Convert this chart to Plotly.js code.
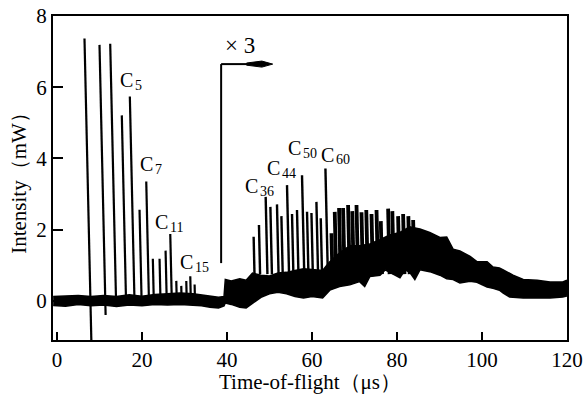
<!DOCTYPE html>
<html>
<head>
<meta charset="utf-8">
<script src="https://cdn.plot.ly/plotly-3.0.1.min.js"></script>
<style>html,body{margin:0;padding:0;background:#fff;}#chart{width:583px;height:394px;}</style>
</head>
<body>
<div id="chart"></div>
<script>
// ---- data ----
// left group of cluster peaks (x at peak top, µs; intensity, mW; foot of the line)
const leftPeakX    = [6.47, 10.0, 12.52, 15.25, 17.14, 19.42, 21.0, 22.55, 24.13, 25.55, 26.65, 28.07, 29.24, 30.42, 31.36, 32.38];
const leftPeakTop  = [7.37, 7.19, 7.22, 5.21, 5.74, 2.56, 3.35, 1.18, 1.18, 1.41, 1.88, 0.56, 0.42, 0.56, 0.69, 0.46];
const leftPeakFoot = [-1.1, -0.4, 0, 0, 0, 0, 0, 0, 0, 0, 0, 0, 0, 0, 0, 0];

// right group (after the x3 change of scale)
const rightPeakX   = [46.27, 47.52, 49.10, 50.21, 51.76, 52.80, 54.12, 55.30, 56.47, 57.65, 58.83, 59.87, 61.04, 62.06, 63.16, 64.58, 65.35, 66.37, 67.31, 68.49, 69.48, 70.47, 71.64, 72.77, 74.00, 75.18, 76.19, 77.91, 78.90, 80.26, 81.44, 82.67, 83.80];
const rightPeakTop = [1.80, 2.13, 2.92, 2.64, 2.71, 2.38, 3.25, 2.44, 2.55, 3.53, 2.50, 2.47, 2.78, 2.32, 3.72, 1.90, 2.50, 2.61, 2.61, 2.69, 2.52, 2.69, 2.49, 2.55, 2.44, 2.55, 2.24, 2.59, 2.52, 2.38, 2.44, 2.38, 2.27];
const rightPeakFoot = 0.75;

// noisy baseline band: lower and upper envelope
const bandX    = [-0.9, 2, 5, 8, 11, 14, 17, 20, 23, 26, 29, 32, 34, 36, 38, 39.3, 39.6, 41, 43, 44.5, 46, 48, 50, 52, 54, 56, 58, 60, 62.5, 63.5, 64.2, 66.5, 68.9, 71.2, 72.4, 73.6, 76, 77.2, 78.3, 80.7, 81.9, 83, 84.2, 85.4, 87.7, 90.1, 91.7, 93.2, 94.8, 97.2, 98.8, 101.2, 102.6, 104.1, 105, 106.5, 107.3, 109.7, 113, 116, 119, 120];
const bandLow  = [-0.13, -0.15, -0.10, -0.14, -0.12, -0.16, -0.12, -0.14, -0.10, -0.12, -0.10, -0.12, -0.14, -0.18, -0.20, -0.14, -0.06, -0.10, -0.18, -0.20, -0.08, 0.10, 0.20, 0.24, 0.20, 0.12, 0.08, 0.12, 0.08, 0.22, 0.30, 0.40, 0.45, 0.54, 0.40, 0.68, 0.72, 0.87, 0.80, 0.65, 0.87, 0.80, 0.60, 0.87, 0.82, 0.72, 0.62, 0.60, 0.50, 0.55, 0.52, 0.39, 0.35, 0.30, 0.22, 0.11, 0.10, 0.08, 0.08, 0.08, 0.11, 0.14];
const bandHigh = [0.12, 0.13, 0.15, 0.12, 0.15, 0.12, 0.17, 0.13, 0.18, 0.20, 0.22, 0.20, 0.16, 0.12, 0.10, 0.12, 0.60, 0.56, 0.62, 0.58, 0.78, 0.72, 0.70, 0.78, 0.80, 0.85, 0.90, 0.88, 0.85, 1.00, 1.10, 1.35, 1.55, 1.55, 1.58, 1.60, 1.72, 1.80, 1.85, 1.92, 2.00, 2.08, 2.05, 2.02, 1.92, 1.78, 1.79, 1.45, 1.40, 1.25, 1.10, 1.10, 0.95, 0.92, 0.87, 0.78, 0.72, 0.60, 0.58, 0.53, 0.53, 0.58];

// cluster labels (anchor = junction of "C" and its subscript)
const labelSub = ['5', '7', '11', '15', '36', '44', '50', '60'];
const labelX   = [18.0, 22.72, 26.25, 32.14, 47.45, 52.63, 57.7, 65.35];
const labelY   = [6.20, 3.84, 2.21, 1.09, 3.22, 3.73, 4.29, 4.10];

// x3 gain change marker
const gainX = 38.62, gainYLow = 1.06, gainYHigh = 6.65, gainArrowEnd = 50.75;

const xTicks = [0, 20, 40, 60, 80, 100, 120];
const yTicks = [0, 2, 4, 6, 8];

// ---- build traces ----
const LEAN = 0.19;        // slant of the recorded lines (µs per mW)
const DENSE_FROM = 64.3;  // beyond this the recorded lines merge into a dark mass
function spikeLines(xs, tops, feet, keep) {
  const X = [], Y = [];
  xs.forEach((x, i) => {
    if (!keep(x)) return;
    const f = Array.isArray(feet) ? feet[i] : feet;
    X.push(x, x + LEAN * (tops[i] - f), null);
    Y.push(tops[i], f, null);
  });
  return {X, Y};
}
const L  = spikeLines(leftPeakX, leftPeakTop, leftPeakFoot, () => true);
const R1 = spikeLines(rightPeakX, rightPeakTop, rightPeakFoot, x => x < DENSE_FROM);
const R2 = spikeLines(rightPeakX, rightPeakTop, rightPeakFoot, x => x >= DENSE_FROM);

const serif = 'Liberation Serif, Times New Roman, serif';
const traces = [
  {x: bandX, y: bandLow, mode: 'lines', line: {color: '#000', width: 1.5}, hoverinfo: 'skip'},
  {x: bandX, y: bandHigh, mode: 'lines', fill: 'tonexty', fillcolor: '#000', line: {color: '#000', width: 1.5}, hoverinfo: 'skip'},
  {x: L.X, y: L.Y, mode: 'lines', line: {color: '#000', width: 2.2}, connectgaps: false},
  {x: R1.X, y: R1.Y, mode: 'lines', line: {color: '#000', width: 2.4}, connectgaps: false},
  {x: R2.X, y: R2.Y, mode: 'lines', line: {color: '#000', width: 3.8}, connectgaps: false}
];

const annotations = [];
labelSub.forEach((s, i) => {
  annotations.push({x: labelX[i], y: labelY[i], xref: 'x', yref: 'y', text: 'C', showarrow: false,
    xanchor: 'right', yanchor: 'middle', borderpad: 0,
    font: {family: serif, size: 20, color: '#000'}});
  annotations.push({x: labelX[i], y: labelY[i], xref: 'x', yref: 'y', text: s, showarrow: false,
    xanchor: 'left', yanchor: 'middle', borderpad: 0, yshift: -5,
    font: {family: serif, size: 14, color: '#000'}});
});
annotations.push({x: 43.0, y: 7.16, xref: 'x', yref: 'y', text: '× 3', showarrow: false,
  font: {family: serif, size: 23, color: '#000'}});

// arrow head of the x3 marker (narrow filled tip)
const headStart = 44.6, headMid = 48.2, headHalf = 0.085;
const shapes = [
  {type: 'line', xref: 'x', yref: 'y', x0: gainX, x1: gainX, y0: gainYLow, y1: gainYHigh, line: {color: '#000', width: 2}},
  {type: 'line', xref: 'x', yref: 'y', x0: gainX, x1: headStart, y0: gainYHigh, y1: gainYHigh, line: {color: '#000', width: 2}},
  {type: 'path', xref: 'x', yref: 'y',
    path: `M ${headStart},${gainYHigh - 0.03} L ${headMid},${gainYHigh - headHalf} L ${gainArrowEnd},${gainYHigh} L ${headMid},${gainYHigh + headHalf} L ${headStart},${gainYHigh + 0.03} Z`,
    fillcolor: '#000', line: {color: '#000', width: 1}}
];

const layout = {
  width: 583, height: 394,
  margin: {l: 53, r: 16, t: 16, b: 54},
  paper_bgcolor: '#fff', plot_bgcolor: '#fff',
  showlegend: false,
  font: {family: serif, color: '#000', size: 21},
  xaxis: {
    range: [-0.94, 120], tickvals: xTicks, ticktext: xTicks.map(String),
    ticks: 'inside', ticklen: 8, tickwidth: 2, tickcolor: '#000',
    showline: true, linewidth: 2, linecolor: '#000', mirror: true,
    showgrid: false, zeroline: false,
    tickfont: {family: serif, size: 21, color: '#000'},
    title: {text: 'Time-of-flight（μs）', font: {family: serif, size: 21, color: '#000'}, standoff: 4}
  },
  yaxis: {
    range: [-1.1, 8.001], tickvals: yTicks, ticktext: yTicks.map(String),
    ticks: 'inside', ticklen: 10, tickwidth: 2, tickcolor: '#000',
    showline: true, linewidth: 2, linecolor: '#000', mirror: true,
    showgrid: false, zeroline: false,
    tickfont: {family: serif, size: 21, color: '#000'},
    title: {text: 'Intensity（mW）', font: {family: serif, size: 21, color: '#000'}, standoff: 4}
  },
  shapes: shapes,
  annotations: annotations
};

Plotly.newPlot('chart', traces, layout, {staticPlot: true, displayModeBar: false});
</script>
</body>
</html>
